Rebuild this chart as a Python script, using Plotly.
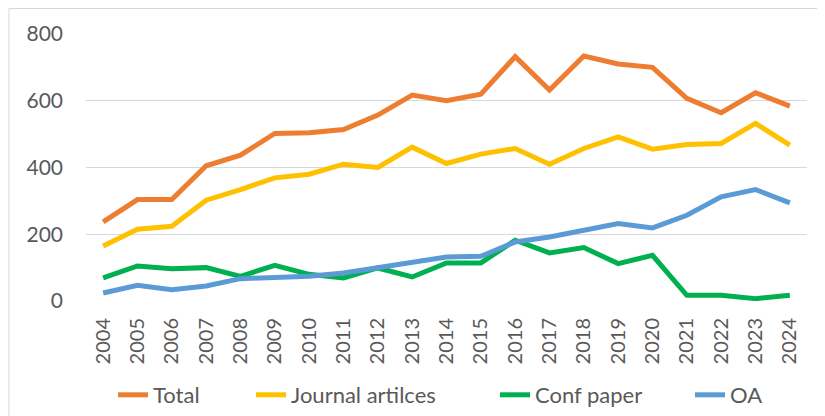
import plotly.graph_objects as go

years = [str(y) for y in range(2004, 2025)]
total = [237, 304, 304, 405, 437, 502, 504, 514, 557, 617, 600, 620, 732, 632, 734, 710, 700, 607, 564, 624, 584]
journal = [165, 215, 224, 302, 334, 369, 380, 410, 400, 461, 412, 440, 457, 410, 457, 492, 455, 469, 472, 532, 467]
conf = [69, 105, 97, 100, 74, 107, 80, 69, 99, 72, 114, 114, 182, 144, 160, 112, 137, 17, 17, 7, 17]
oa = [24, 47, 34, 45, 67, 70, 74, 84, 99, 116, 132, 134, 177, 192, 212, 232, 219, 257, 312, 334, 294]

series = [
    ("Total", total, "#ED7D31"),
    ("Journal artilces", journal, "#FFC000"),
    ("Conf paper", conf, "#00B050"),
    ("OA", oa, "#5B9BD5"),
]

# each legend entry gets its own legend box so the spacing can follow the original
legend_names = ["legend", "legend2", "legend3", "legend4"]
legend_x = [105, 243, 487, 682]  # left edge of each entry, px in the figure

W, H = 817, 408

fig = go.Figure()
for (name, vals, color), lg in zip(series, legend_names):
    fig.add_trace(go.Scatter(
        x=years, y=vals, name=name, mode="lines",
        line=dict(color=color, width=5), legend=lg,
    ))

legend_style = dict(
    orientation="h", xref="container", yref="container",
    y=1 - 387 / H, xanchor="left", yanchor="middle",
    font=dict(size=22, color="#595959"), bgcolor="rgba(0,0,0,0)",
)
legends = {lg: dict(legend_style, x=lx / W) for lg, lx in zip(legend_names, legend_x)}

# chart frame: only the top and left edges show in the original
frame = dict(type="path", xref="paper", yref="paper",
             path="M -0.1068,-0.5 L -0.1068,1.0955 L 1.03,1.0955",
             line=dict(color="#d9d9d9", width=1))

fig.update_layout(
    width=W, height=H,
    margin=dict(l=78, r=18, t=26, b=115),
    paper_bgcolor="white",
    plot_bgcolor="white",
    font=dict(family="Lato, sans-serif", color="#595959"),
    showlegend=True,
    shapes=[frame],
    **legends,
)
fig.update_xaxes(
    type="category", range=[-0.5, 20.5], tickangle=-90,
    tickfont=dict(size=20, color="#595959"),
    showgrid=False, showline=False, ticks="", automargin=False,
    ticklabelstandoff=12,
)
fig.update_yaxes(
    range=[0, 800], dtick=200, tickfont=dict(size=21, color="#595959"),
    gridcolor="#d9d9d9", gridwidth=1, zeroline=False, showline=False,
    ticks="", automargin=False, ticklabelstandoff=22,
)

fig.write_html("out.html")
